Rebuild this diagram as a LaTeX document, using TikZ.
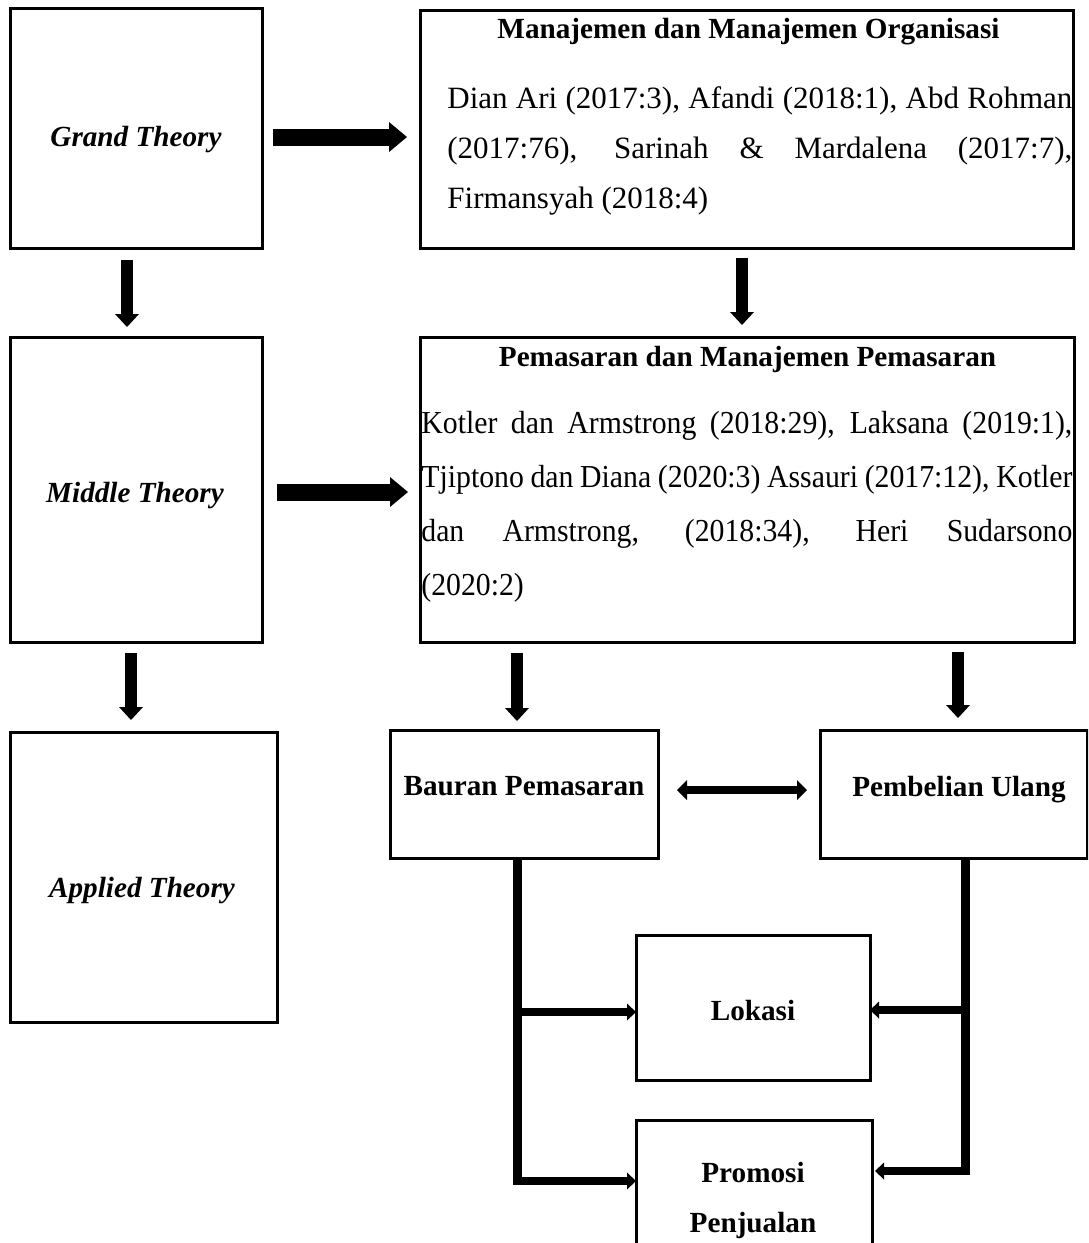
\documentclass[tikz,border=0pt]{standalone}
\usepackage{fontspec}
\setmainfont{Liberation Serif}
\usetikzlibrary{arrows.meta,fit}
\newcommand\condline[1]{\scalebox{0.93}[1]{\makebox[350pt][s]{#1}}}
\begin{document}
\begin{tikzpicture}[x=0.5pt,y=-0.5pt,
  box/.style={draw, line width=1.5pt, inner sep=0pt, outer sep=0pt},
  lbl/.style={font=\fontsize{14.6}{17}\selectfont\bfseries, inner sep=0pt, anchor=base},
  ilbl/.style={font=\fontsize{14.6}{17}\selectfont\bfseries\itshape, inner sep=0pt, anchor=base},
  body/.style={font=\fontsize{16}{19}\selectfont, inner sep=0pt, anchor=base west},
  mbody/.style={font=\fontsize{15.5}{19}\selectfont, inner sep=0pt, anchor=base west},
  harrow/.style={line width=8.5pt, -{Triangle[width=15pt,length=9pt,line width'=0pt]}},
  varrow/.style={line width=6pt, -{Triangle[width=12pt,length=6.5pt,line width'=0pt]}},
  trunk/.style={line width=4.5pt},
  branch/.style={line width=3.7pt, -{Triangle[width=8.5pt,length=4.5pt,line width'=0pt]}},
  dblarrow/.style={line width=3.7pt, {Triangle[width=10pt,length=5pt,line width'=0pt]}-{Triangle[width=10pt,length=5pt,line width'=0pt]}}
]
\useasboundingbox (0,0) rectangle (1088,1243);
\clip (0,0) rectangle (1088,1243);

% boxes
\node[box, fit={(10,8) (262,248)}] (grand) {};
\node[box, fit={(420,10) (1073,248)}] (manaj) {};
\node[box, fit={(10,337) (262,642)}] (middle) {};
\node[box, fit={(420,337) (1074,642)}] (pemas) {};
\node[box, fit={(10,732) (277,1022)}] (applied) {};
\node[box, fit={(390,730) (658,858)}] (bauran) {};
\node[box, fit={(820,730) (1087,858)}] (pembelian) {};
\node[box, fit={(636,935) (870,1080)}] (lokasi) {};
\node[box, fit={(636,1120) (872,1300)}] (promosi) {};

% labels
\node[ilbl] (grandt) at (136,146) {Grand Theory};
\node[ilbl] (middlet) at (135,502) {Middle Theory};
\node[ilbl] (appliedt) at (142,897) {Applied Theory};
\node[lbl] (baurant) at (524,795) {Bauran Pemasaran};
\node[lbl] (pembeliant) at (959,796) {Pembelian Ulang};
\node[lbl] (lokasit) at (753,1020) {Lokasi};
\node[lbl] (promosit) at (753,1182) {Promosi};
\node[lbl] (penjualant) at (753,1232) {Penjualan};

\node[lbl] (manajt) at (748.5,38) {Manajemen dan Manajemen Organisasi};
\node[mbody] (m1) at (447,108) {\makebox[312.5pt][s]{Dian Ari (2017:3), Afandi (2018:1), Abd Rohman}};
\node[mbody] (m2) at (447,158) {\makebox[312.5pt][s]{(2017:76), Sarinah \& Mardalena (2017:7),}};
\node[mbody] (m3) at (447,208) {Firmansyah (2018:4)};

\node[lbl] (pemast) at (747.5,366) {Pemasaran dan Manajemen Pemasaran};
\node[body] (p1) at (421,433) {\condline{Kotler dan Armstrong (2018:29), Laksana (2019:1),}};
\node[body] (p2) at (421,487) {\condline{Tjiptono dan Diana (2020:3) Assauri (2017:12), Kotler}};
\node[body] (p3) at (421,541) {\condline{dan Armstrong, (2018:34), Heri Sudarsono}};
\node[body] (p4) at (421,595) {\scalebox{0.93}[1]{(2020:2)}};

% block arrows
\draw[harrow, shorten <=5.5pt, shorten >=6.5pt] (grand.east |- 0,137) -- (manaj.west |- 0,137);
\draw[harrow, shorten <=7.5pt, shorten >=6pt] (middle.east |- 0,492) -- (pemas.west |- 0,492);
\draw[varrow, shorten <=6pt, shorten >=5pt] (grand.south -| 127,0) -- (middle.north -| 127,0);
\draw[varrow, shorten <=5pt, shorten >=6pt] (manaj.south -| 742,0) -- (pemas.north -| 742,0);
\draw[varrow, shorten <=5.5pt, shorten >=6pt] (middle.south -| 131,0) -- (applied.north -| 131,0);
\draw[varrow, shorten <=5.5pt, shorten >=4.5pt] (pemas.south -| 517,0) -- (bauran.north -| 517,0);
\draw[varrow, shorten <=5pt, shorten >=6pt] (pemas.south -| 958,0) -- (pembelian.north -| 958,0);

% double arrow
\draw[dblarrow, shorten <=9.5pt, shorten >=6.5pt] (bauran.east |- 0,790) -- (pembelian.west |- 0,790);

% trunks and branches
\coordinate (lj1) at (517,1012);
\coordinate (lj2) at (517,1181);
\coordinate (rj1) at (965,1010);
\coordinate (rj2) at (965,1171);
\draw[trunk] (bauran.south -| lj1) -- ([yshift=-1.85pt]lj2);
\draw[trunk] (pembelian.south -| rj1) -- ([yshift=-1.85pt]rj2);
\draw[branch] (lj1) -- (lokasi.west |- lj1);
\draw[branch] (lj2) -- (promosi.west |- lj2);
\draw[branch] (rj1) -- (lokasi.east |- rj1);
\draw[branch, shorten >=1.5pt] (rj2) -- (promosi.east |- rj2);
\end{tikzpicture}
\end{document}
